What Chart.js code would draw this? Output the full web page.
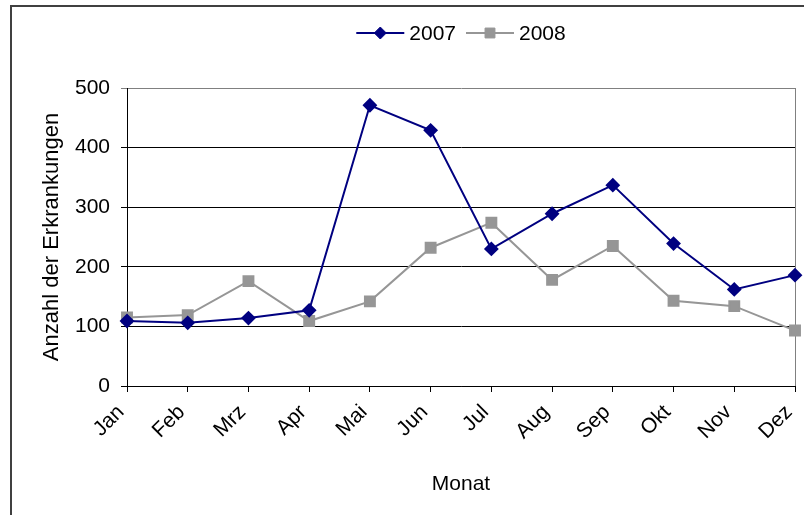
<!DOCTYPE html>
<html lang="de">
<head>
<meta charset="utf-8">
<title>Anzahl der Erkrankungen 2007/2008</title>
<script src="https://cdn.jsdelivr.net/npm/chart.js@4/dist/chart.umd.min.js"></script>
<style>
  html, body { margin: 0; padding: 0; background: #fff; overflow: hidden; }
  #wrap { position: relative; width: 804px; height: 515px; }
  #frame { position: absolute; left: 10px; top: 5px; width: 820px; height: 540px;
           border-left: 2px solid #404040; border-top: 2px solid #404040; pointer-events: none; }
  canvas { position: absolute; left: 0; top: 0; }
</style>
</head>
<body>
<div id="wrap">
  <canvas id="chart" width="804" height="515"></canvas>
  <div id="frame"></div>
</div>
<script>
// Monthly case counts
const months = ['Jan', 'Feb', 'Mrz', 'Apr', 'Mai', 'Jun', 'Jul', 'Aug', 'Sep', 'Okt', 'Nov', 'Dez'];
const cases2007 = [109, 106, 114, 127, 471, 429, 230, 289, 337, 239, 162, 186];
const cases2008 = [115, 119, 176, 109, 142, 232, 274, 178, 235, 143, 134, 93];
const yTicks = [0, 100, 200, 300, 400, 500];

const FONT = 'Liberation Sans, Arial, sans-serif';

// Legend drawn above the plot, centred over the plot area
const centeredLegend = {
  id: 'centeredLegend',
  afterDraw(chart) {
    const { ctx, chartArea } = chart;
    const items = chart.data.datasets;
    ctx.save();
    ctx.font = '21px ' + FONT;
    ctx.textBaseline = 'middle';
    const lineLen = 48, gap = 5, spacing = 10;
    const widths = items.map(d => lineLen + gap + ctx.measureText(d.label).width);
    const total = widths.reduce((a, b) => a + b, 0) + spacing * (items.length - 1);
    let x = (chartArea.left + chartArea.right) / 2 - total / 2;
    const y = 33;
    items.forEach((d, i) => {
      ctx.strokeStyle = d.borderColor;
      ctx.lineWidth = d.borderWidth;
      ctx.beginPath();
      ctx.moveTo(x, y);
      ctx.lineTo(x + lineLen, y);
      ctx.stroke();
      ctx.fillStyle = d.pointBackgroundColor;
      ctx.strokeStyle = d.pointBorderColor;
      ctx.lineWidth = 1;
      Chart.helpers.drawPoint(ctx, {
        pointStyle: d.pointStyle, radius: d.pointRadius, borderWidth: 1
      }, x + lineLen / 2, y);
      ctx.fillStyle = '#000';
      ctx.textAlign = 'left';
      ctx.fillText(d.label, x + lineLen + gap, y + 1);
      x += widths[i] + spacing;
    });
    ctx.restore();
  }
};

// Grey right-hand border of the plot area
const plotBorder = {
  id: 'plotBorder',
  beforeDatasetsDraw(chart) {
    const { ctx, chartArea } = chart;
    ctx.save();
    ctx.strokeStyle = '#808080';
    ctx.lineWidth = 1;
    ctx.beginPath();
    ctx.moveTo(Math.round(chartArea.right) + 0.5, chartArea.top);
    ctx.lineTo(Math.round(chartArea.right) + 0.5, chartArea.bottom);
    ctx.stroke();
    ctx.restore();
  }
};

new Chart(document.getElementById('chart'), {
  type: 'line',
  data: {
    labels: months,
    datasets: [
      {
        label: '2007',
        data: cases2007,
        borderColor: '#000080',
        backgroundColor: '#000080',
        borderWidth: 2,
        pointStyle: 'rectRot',
        pointRadius: 6,
        pointBackgroundColor: '#000080',
        pointBorderColor: '#000080',
        tension: 0
      },
      {
        label: '2008',
        data: cases2008,
        borderColor: '#969696',
        backgroundColor: '#969696',
        borderWidth: 2,
        pointStyle: 'rect',
        pointRadius: 7,
        pointBackgroundColor: '#969696',
        pointBorderColor: '#969696',
        tension: 0
      }
    ]
  },
  options: {
    responsive: false,
    animation: false,
    devicePixelRatio: 1,
    layout: { padding: { top: 88, right: 7, bottom: 0, left: 0 } },
    plugins: {
      legend: { display: false },
      tooltip: { enabled: false }
    },
    scales: {
      x: {
        type: 'category',
        offset: false,
        afterFit(scale) {
          scale.height = 129;
          scale.paddingLeft = 0;
          scale.paddingRight = 0;
        },
        grid: { drawOnChartArea: false, drawTicks: true, tickLength: 6, color: '#000' },
        border: { color: '#000', width: 1 },
        ticks: {
          color: '#000',
          font: { family: FONT, size: 21 },
          maxRotation: 45,
          minRotation: 45,
          padding: 8,
          labelOffset: -6,
          autoSkip: false
        },
        title: {
          display: true,
          text: 'Monat',
          color: '#000',
          font: { family: FONT, size: 21 },
          padding: { top: 0, bottom: 18 }
        }
      },
      y: {
        min: 0,
        max: 500,
        afterFit(scale) { scale.width = 127; },
        afterBuildTicks(scale) { scale.ticks = yTicks.map(v => ({ value: v })); },
        grid: {
          drawTicks: true,
          tickLength: 6,
          color: ctx => (ctx.tick && ctx.tick.value === 500 ? '#808080' : '#000')
        },
        border: { color: '#000', width: 1 },
        ticks: {
          color: '#000',
          font: { family: FONT, size: 21 },
          padding: 11
        },
        title: {
          display: true,
          text: 'Anzahl der Erkrankungen',
          color: '#000',
          font: { family: FONT, size: 22 },
          padding: { top: 39, bottom: 0 }
        }
      }
    }
  },
  plugins: [plotBorder, centeredLegend]
});
</script>
</body>
</html>
